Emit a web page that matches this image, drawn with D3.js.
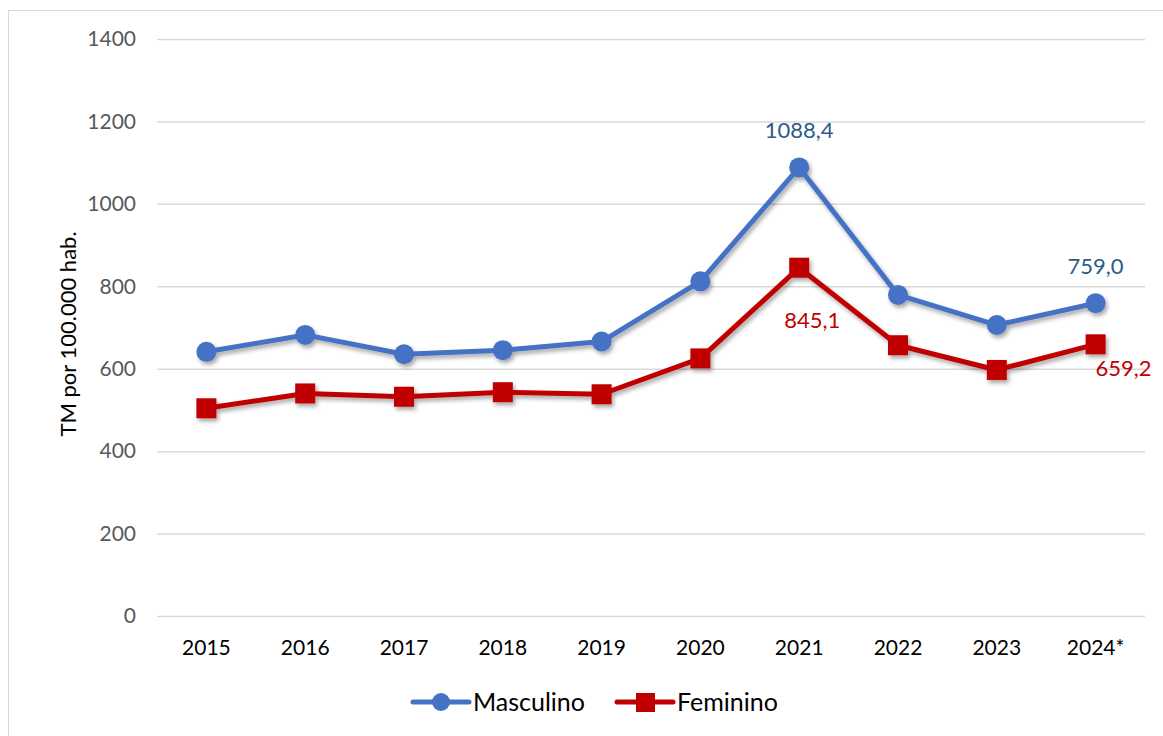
<!DOCTYPE html>
<html>
<head>
<meta charset="utf-8">
<script src="https://cdn.jsdelivr.net/npm/d3@7"></script>
<style>
  body { margin: 0; background: #fff; }
  text { font-family: Lato, "Open Sans", sans-serif; }
</style>
</head>
<body>
<div id="chart"></div>
<script>
const years = ["2015", "2016", "2017", "2018", "2019", "2020", "2021", "2022", "2023", "2024*"];
const masculino = [641, 682, 635, 645, 666, 812, 1088.4, 779, 706, 759.0];
const feminino = [504, 540, 532, 543, 538, 625, 845.1, 657, 597, 659.2];
const yTicks = [0, 200, 400, 600, 800, 1000, 1200, 1400];

const width = 1163;
const height = 736;
const margin = { top: 39, right: 18, bottom: 120, left: 157 };

const svg = d3.select("#chart")
  .append("svg")
  .attr("width", width)
  .attr("height", height);

// soft drop shadow like the office chart
const defs = svg.append("defs");
const f = defs.append("filter").attr("id", "shadow")
  .attr("x", "-20%").attr("y", "-20%").attr("width", "140%").attr("height", "140%");
f.append("feDropShadow")
  .attr("dx", 2).attr("dy", 3).attr("stdDeviation", 2)
  .attr("flood-color", "#000").attr("flood-opacity", 0.35);

// outer frame
svg.append("rect")
  .attr("x", 8.5).attr("y", 10.5)
  .attr("width", 1165).attr("height", 740)
  .attr("fill", "none")
  .attr("stroke", "#d9d9d9");

const x = d3.scaleBand()
  .domain(years)
  .range([margin.left, width - margin.right]);

const y = d3.scaleLinear()
  .domain([0, 1400])
  .range([616, margin.top]);

// y axis + grid
const yAxis = svg.append("g")
  .attr("transform", "translate(" + margin.left + ",0)")
  .call(d3.axisLeft(y).tickValues(yTicks).tickFormat(d3.format("d"))
    .tickSize(-(width - margin.left - margin.right)).tickPadding(21));
yAxis.select(".domain").remove();
yAxis.selectAll("line").attr("stroke", "#d9d9d9").attr("stroke-width", 1.5);
yAxis.selectAll("text")
  .attr("fill", "#595959")
  .style("font-size", "21px");

// x axis
const xAxis = svg.append("g")
  .attr("transform", "translate(0,616)")
  .call(d3.axisBottom(x).tickSize(0).tickPadding(24));
xAxis.select(".domain").remove();
xAxis.selectAll("text")
  .attr("fill", "#000")
  .style("font-size", "21px");

// axis title
svg.append("text")
  .attr("transform", "translate(68,334) rotate(-90)")
  .attr("text-anchor", "middle")
  .attr("dy", "0.35em")
  .attr("fill", "#000")
  .style("font-size", "22px")
  .text("TM por 100.000 hab.");

const cx = (d, i) => x(years[i]) + x.bandwidth() / 2;
const line = d3.line()
  .x(cx)
  .y(d => y(d));

const series = [
  { name: "Masculino", values: masculino, color: "#4472C4", shape: "circle" },
  { name: "Feminino", values: feminino, color: "#C00000", shape: "square" }
];

series.forEach(s => {
  const g = svg.append("g").attr("filter", "url(#shadow)");
  g.append("path")
    .datum(s.values)
    .attr("d", line)
    .attr("fill", "none")
    .attr("stroke", s.color)
    .attr("stroke-width", 5)
    .attr("stroke-linejoin", "round")
    .attr("stroke-linecap", "round");
  if (s.shape === "circle") {
    g.selectAll("circle")
      .data(s.values)
      .join("circle")
      .attr("cx", cx)
      .attr("cy", d => y(d))
      .attr("r", 10)
      .attr("fill", s.color);
  } else {
    g.selectAll("rect")
      .data(s.values)
      .join("rect")
      .attr("x", (d, i) => cx(d, i) - 10)
      .attr("y", d => y(d) - 10)
      .attr("width", 20)
      .attr("height", 20)
      .attr("fill", s.color);
  }
});

// data labels
const fmt = v => v.toFixed(1).replace(".", ",");
const labels = [
  { i: 6, v: masculino[6], dx: 0, dy: -29, color: "#2E5A88" },
  { i: 9, v: masculino[9], dx: 0, dy: -29, color: "#2E5A88" },
  { i: 6, v: feminino[6], dx: 13, dy: 60, color: "#C00000" },
  { i: 9, v: feminino[9], dx: 28, dy: 32, color: "#C00000" }
];
svg.selectAll(".lbl")
  .data(labels)
  .join("text")
  .attr("class", "lbl")
  .attr("x", d => x(years[d.i]) + x.bandwidth() / 2 + d.dx)
  .attr("y", d => y(d.v) + d.dy)
  .attr("text-anchor", "middle")
  .attr("fill", d => d.color)
  .style("font-size", "22px")
  .text(d => fmt(d.v));

// legend
const legend = svg.append("g").attr("transform", "translate(0,702)");
const legendItems = [
  { name: "Masculino", color: "#4472C4", shape: "circle", x0: 413 },
  { name: "Feminino", color: "#C00000", shape: "square", x0: 617 }
];
legendItems.forEach(it => {
  const g = legend.append("g");
  g.append("line")
    .attr("x1", it.x0).attr("x2", it.x0 + 56)
    .attr("y1", 0).attr("y2", 0)
    .attr("stroke", it.color).attr("stroke-width", 5)
    .attr("stroke-linecap", "round");
  if (it.shape === "circle") {
    g.append("circle").attr("cx", it.x0 + 28).attr("cy", 0).attr("r", 9).attr("fill", it.color);
  } else {
    g.append("rect").attr("x", it.x0 + 19).attr("y", -9).attr("width", 19).attr("height", 19).attr("fill", it.color);
  }
  g.append("text")
    .attr("x", it.x0 + 60)
    .attr("y", 0)
    .attr("dy", "0.35em")
    .attr("fill", "#000")
    .style("font-size", "25px")
    .text(it.name);
});
</script>
</body>
</html>
